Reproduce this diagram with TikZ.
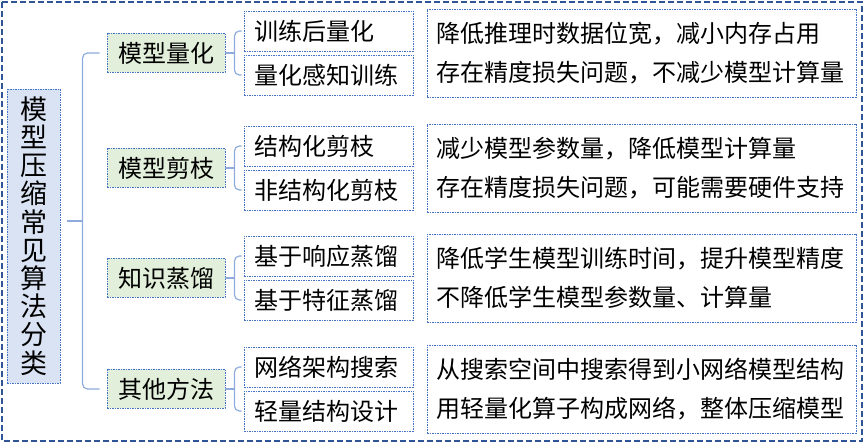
\documentclass[tikz,border=0pt]{standalone}
\usepackage{fontspec}
\setmainfont{Noto Sans CJK SC}
\usetikzlibrary{calc}
\definecolor{frameblue}{HTML}{2F5597}
\definecolor{boxblue}{HTML}{4472C4}
\definecolor{bracecol}{HTML}{8FAADC}
\definecolor{rootfill}{HTML}{DAE3F3}
\definecolor{catfill}{HTML}{E2EFDA}
\tikzset{
  dotbox/.style={draw=boxblue, dash pattern=on 1.5pt off 1pt, line width=0.9pt,
    inner sep=0pt, font=\fontsize{24}{30}\selectfont},
  rootbox/.style={dotbox, fill=rootfill, minimum width=53pt, minimum height=294pt,
    align=center, font=\fontsize{27}{28.2}\selectfont},
  catbox/.style={dotbox, fill=catfill, minimum width=118pt, minimum height=39pt},
  methbox/.style={dotbox, text width=149pt, inner xsep=10pt, minimum height=40pt, align=left},
  notebox/.style={dotbox, text width=410pt, inner xsep=9.5pt, minimum height=88pt,
    align=left, font=\fontsize{24}{39}\selectfont},
  brace/.style={draw=bracecol, line width=1.2pt, rounded corners=5pt},
}
\begin{document}
\begin{tikzpicture}[x=1pt, y=-1pt]
    \useasboundingbox (0,0) rectangle (865,443);
    % 外框
    \draw[frameblue, dash pattern=on 6pt off 3pt, line width=1.6pt] (2,2) rectangle (862,441);

    % 根节点
    \node[rootbox] (root) at (33.5,236) {模\\型\\压\\缩\\常\\见\\算\\法\\分\\类};

    % 四类方法
    \foreach \y/\cat/\ma/\mb/\na/\nb [count=\i] in {
        53/模型量化/训练后量化/量化感知训练/降低推理时数据位宽，减小内存占用/存在精度损失问题，不减少模型计算量,
        168/模型剪枝/结构化剪枝/非结构化剪枝/减少模型参数量，降低模型计算量/存在精度损失问题，可能需要硬件支持,
        278/知识蒸馏/基于响应蒸馏/基于特征蒸馏/降低学生模型训练时间，提升模型精度/不降低学生模型参数量、计算量,
        389/其他方法/网络架构搜索/轻量结构设计/从搜索空间中搜索得到小网络模型结构/用轻量化算子构成网络，整体压缩模型}
    {
        \node[catbox] (c\i) at (166,\y) {\cat};
        \node[methbox] (ma\i) at (328.5,\y-22) {\ma};
        \node[methbox] (mb\i) at (328.5,\y+22) {\mb};
        \node[notebox] (n\i) at (641.5,\y) {\na\\\nb};
        \draw[brace] (c\i.east) -- ++(9,0) coordinate (k\i);
        \draw[brace] ([xshift=-2pt]ma\i.west) -| (k\i) |- ([xshift=-2pt]mb\i.west);
    }

    % 大括号
    \coordinate (tip) at ($(c1.west)!0.5!(c4.west)+(-40,0)$);
    \draw[brace] (tip) -- ++(16,0) coordinate (bend);
    \draw[brace] ([xshift=-7pt]c1.west) -| (bend) |- ([xshift=-7pt]c4.west);
\end{tikzpicture}
\end{document}
